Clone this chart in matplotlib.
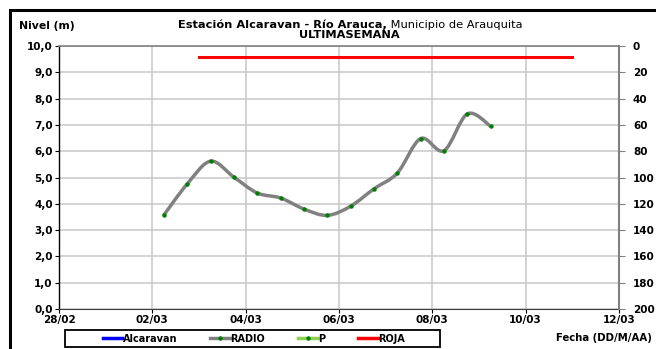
import numpy as np
import pandas as pd
import matplotlib
matplotlib.use("Agg")
import matplotlib.pyplot as plt
import matplotlib.dates as mdates
from matplotlib.path import Path
from matplotlib.patches import PathPatch, Rectangle
from matplotlib.lines import Line2D

plt.rcParams['font.family'] = ['DejaVu Sans']

# ─── Datos ────────────────────────────────────────────────────────────────────
fechas = pd.date_range("2019-03-02 06:00", periods=15, freq="12h")
nivel = [3.58, 4.76, 5.62, 5.01, 4.41, 4.22, 3.80, 3.56, 3.91, 4.57,
         5.17, 6.48, 6.02, 7.42, 6.95]

roja_fechas = pd.to_datetime(["2019-03-03", "2019-03-11"])
roja_nivel = [9.6, 9.6]

x_ini, x_fin = pd.Timestamp("2019-02-28"), pd.Timestamp("2019-03-12")
x_ticks = pd.date_range(x_ini, x_fin, freq="2D")
y_ticks = np.arange(0, 10.1, 1)
y2_ticks = np.arange(0, 201, 20)

GRIS = "#808080"
GRID = "#C8C8C8"
W, H = 656, 349


def fx(px):
    return px / W


def fy(py):
    return 1 - py / H


# ─── Figura ───────────────────────────────────────────────────────────────────
fig = plt.figure(figsize=(W / 100, H / 100), dpi=100)
fig.patches.append(Rectangle((fx(9.5), -0.05), 1.1, fy(9.5) + 0.05,
                             transform=fig.transFigure, fill=False,
                             edgecolor="black", linewidth=2.2, zorder=0))

ax = fig.add_axes([fx(59), fy(309), (619 - 59) / W, (309 - 46) / H])
ax.set_xlim(x_ini, x_fin)
ax.set_ylim(0, 10)
ax.set_xticks(x_ticks)
ax.xaxis.set_major_formatter(mdates.DateFormatter("%d/%m"))
ax.set_yticks(y_ticks)
ax.set_yticklabels([f"{v:.1f}".replace(".", ",") for v in y_ticks])
ax.grid(True, color=GRID, linewidth=1.1, zorder=0)
ax.set_axisbelow(True)
for lab in ax.get_xticklabels() + ax.get_yticklabels():
    lab.set_fontweight("bold")
    lab.set_fontsize(7.5)
ax.tick_params(axis="both", length=3, width=0.8, pad=1.5)
ax.spines["left"].set_color("black")
ax.spines["left"].set_linewidth(1.0)
ax.spines["bottom"].set_color("#404040")
for s in ("top", "right"):
    ax.spines[s].set_color(GRIS)
    ax.spines[s].set_linewidth(1.2)

# línea suavizada (bezier tipo Excel) a través de los puntos
xn = mdates.date2num(fechas)
yn = np.array(nivel)
pts = np.column_stack([xn, yn])
verts = [pts[0]]
codes = [Path.MOVETO]
for i in range(len(pts) - 1):
    p0 = pts[i - 1] if i > 0 else pts[i]
    p1, p2 = pts[i], pts[i + 1]
    p3 = pts[i + 2] if i + 2 < len(pts) else pts[i + 1]
    verts += [p1 + (p2 - p0) / 6, p2 - (p3 - p1) / 6, p2]
    codes += [Path.CURVE4] * 3
ax.add_patch(PathPatch(Path(verts, codes), facecolor="none", edgecolor=GRIS,
                       linewidth=2.5, capstyle="round", zorder=3))
ax.plot(fechas, nivel, linestyle="none", marker="o", markersize=2.2,
        color="#008000", zorder=4)

ax.plot(roja_fechas, roja_nivel, color="#FF0000", linewidth=2.2, zorder=3)

# eje derecho
ax2 = ax.twinx()
ax2.set_ylim(200, 0)
ax2.set_yticks(y2_ticks)
ax2.set_yticklabels([str(v) for v in y2_ticks], fontweight="bold", fontsize=7.5)
ax2.tick_params(axis="y", length=4, width=0.8, color=GRIS, pad=6)
for s in ax2.spines.values():
    s.set_visible(False)
ax2.spines["right"].set_visible(True)
ax2.spines["right"].set_color(GRIS)
ax2.spines["right"].set_linewidth(1.5)

# textos
fig.text(fx(19), fy(26), "Nivel (m)", fontsize=7.8, fontweight="bold",
         va="center")
fig.text(fx(387), fy(25), "Estación Alcaravan - Río Arauca,",
         fontsize=8.2, fontweight="bold", ha="right", va="center")
fig.text(fx(387), fy(25), " Municipio de Arauquita", fontsize=8.2,
         ha="left", va="center")
fig.text(fx(349), fy(35), "ULTIMASEMANA", fontsize=8.2, fontweight="bold",
         ha="center", va="center")
fig.text(fx(652), fy(338), "Fecha (DD/M/AA)", fontsize=7.3,
         fontweight="bold", ha="right", va="center")

# leyenda
handles = [
    Line2D([], [], color="#0000FF", linewidth=2.5),
    Line2D([], [], color=GRIS, linewidth=2.5, marker="o", markersize=2.2,
           markerfacecolor="#008000", markeredgecolor="#008000"),
    Line2D([], [], color="#92D050", linewidth=2.5, marker="o", markersize=2.2,
           markerfacecolor="#008000", markeredgecolor="#008000"),
    Line2D([], [], color="#FF0000", linewidth=2.5),
]
fig.legend(handles, ["Alcaravan", "RADIO", "P", "ROJA"], ncol=4,
           loc="center", bbox_to_anchor=(fx(254), fy(338.5)),
           prop={"weight": "bold", "size": 7}, frameon=False,
           handlelength=2.0, handletextpad=0.05, columnspacing=3.4,
           borderpad=0, borderaxespad=0)
fig.patches.append(Rectangle((fx(65), fy(347)), (440 - 65) / W, 17 / H,
                             transform=fig.transFigure, fill=False,
                             edgecolor="black", linewidth=1.3))

fig.savefig("out.png", dpi=100)
